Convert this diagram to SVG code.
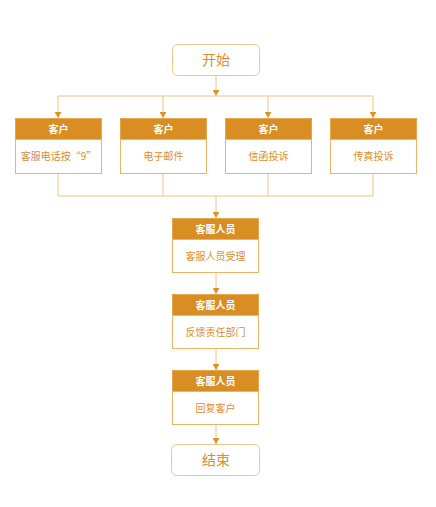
<svg xmlns="http://www.w3.org/2000/svg" width="436" height="507" viewBox="0 0 436 507">
<style>
.term{fill:#fff;stroke:#F0C48A;stroke-width:1}
.hd{fill:#D98E24;stroke:#E5A64E;stroke-width:1}
.bd{fill:#fff;stroke:#EDB468;stroke-width:1}
.ht{font-family:"Noto Sans CJK SC","Liberation Sans",sans-serif;font-size:10px;font-weight:bold;fill:#fff;text-anchor:middle}
.bt{font-family:"Noto Sans CJK SC","Liberation Sans",sans-serif;font-size:10px;fill:#DC8C2A;text-anchor:middle}
.tt{font-family:"Noto Sans CJK SC","Liberation Sans",sans-serif;font-size:14px;fill:#DC8C2A;text-anchor:middle}
.ln{fill:none;stroke:#F0C283;stroke-width:1}
</style>
<defs>
<marker id="ah" markerWidth="6" markerHeight="7" refX="6" refY="3.5" orient="auto" markerUnits="userSpaceOnUse">
<path d="M0,0 L6,3.5 L0,7 Z" fill="#DF922C"/>
</marker>
</defs>
<rect width="436" height="507" fill="#fff"/>
<g id="connectors">
<path class="ln" d="M216,75 V96" marker-end="url(#ah)"/>
<path class="ln" d="M58,96 H373"/>
<path class="ln" d="M58,96 V118" marker-end="url(#ah)"/>
<path class="ln" d="M163,96 V118" marker-end="url(#ah)"/>
<path class="ln" d="M268,96 V118" marker-end="url(#ah)"/>
<path class="ln" d="M373,96 V118" marker-end="url(#ah)"/>
<path class="ln" d="M58,173 V196 H373 V173 M163,173 V196 M268,173 V196"/>
<path class="ln" d="M216,196 V218" marker-end="url(#ah)"/>
<path class="ln" d="M216,272 V294" marker-end="url(#ah)"/>
<path class="ln" d="M216,348 V370" marker-end="url(#ah)"/>
<path class="ln" d="M216,424 V444" marker-end="url(#ah)"/>
</g>
<g id="start">
<rect class="term" x="172.5" y="44.5" width="87" height="31" rx="5"/>
<text class="tt" x="216" y="65">开始</text>
</g>
<g id="c1">
<rect class="hd" x="15.5" y="118.5" width="86" height="21"/>
<rect class="bd" x="15.5" y="139.5" width="86" height="34"/>
<text class="ht" x="58.5" y="132.5">客户</text>
<text class="bt" x="58.5" y="160">客服电话按“9”</text>
</g>
<g id="c2">
<rect class="hd" x="120.5" y="118.5" width="86" height="21"/>
<rect class="bd" x="120.5" y="139.5" width="86" height="34"/>
<text class="ht" x="163.5" y="132.5">客户</text>
<text class="bt" x="163.5" y="160">电子邮件</text>
</g>
<g id="c3">
<rect class="hd" x="225.5" y="118.5" width="86" height="21"/>
<rect class="bd" x="225.5" y="139.5" width="86" height="34"/>
<text class="ht" x="268.5" y="132.5">客户</text>
<text class="bt" x="268.5" y="160">信函投诉</text>
</g>
<g id="c4">
<rect class="hd" x="330.5" y="118.5" width="86" height="21"/>
<rect class="bd" x="330.5" y="139.5" width="86" height="34"/>
<text class="ht" x="373.5" y="132.5">客户</text>
<text class="bt" x="373.5" y="160">传真投诉</text>
</g>
<g id="s1">
<rect class="hd" x="172.5" y="218.5" width="86" height="21"/>
<rect class="bd" x="172.5" y="239.5" width="86" height="33"/>
<text class="ht" x="215.5" y="232.5">客服人员</text>
<text class="bt" x="215.5" y="259.5">客服人员受理</text>
</g>
<g id="s2">
<rect class="hd" x="172.5" y="294.5" width="86" height="21"/>
<rect class="bd" x="172.5" y="315.5" width="86" height="33"/>
<text class="ht" x="215.5" y="308.5">客服人员</text>
<text class="bt" x="215.5" y="335.5">反馈责任部门</text>
</g>
<g id="s3">
<rect class="hd" x="172.5" y="370.5" width="86" height="21"/>
<rect class="bd" x="172.5" y="391.5" width="86" height="33"/>
<text class="ht" x="215.5" y="384.5">客服人员</text>
<text class="bt" x="215.5" y="411.5">回复客户</text>
</g>
<g id="end">
<rect class="term" x="171.5" y="444.5" width="88" height="31" rx="5"/>
<text class="tt" x="216" y="465">结束</text>
</g>
</svg>
